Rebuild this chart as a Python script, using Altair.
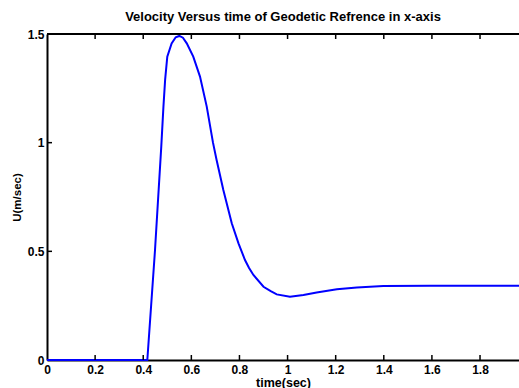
import altair as alt
import pandas as pd

# Data
time_s = [0.0, 0.417, 0.449, 0.475, 0.484, 0.491, 0.500, 0.518, 0.535, 0.550,
          0.565, 0.581, 0.608, 0.636, 0.664, 0.690, 0.705, 0.733, 0.768, 0.796,
          0.823, 0.840, 0.858, 0.900, 0.930, 0.955, 1.010, 1.066, 1.121, 1.205,
          1.288, 1.398, 1.592, 1.962]
velocity = [0.0, 0.0, 0.506, 0.982, 1.166, 1.289, 1.396, 1.457, 1.485, 1.491,
            1.483, 1.457, 1.396, 1.304, 1.166, 1.000, 0.920, 0.782, 0.629, 0.537,
            0.460, 0.423, 0.391, 0.337, 0.317, 0.302, 0.291, 0.299, 0.311, 0.325,
            0.334, 0.340, 0.342, 0.342]

x_ticks = [0, 0.2, 0.4, 0.6, 0.8, 1.0, 1.2, 1.4, 1.6, 1.8]
y_ticks = [0, 0.5, 1.0, 1.5]
x_max = 1.962
W, H = 472, 326
FONT = "Liberation Sans"

df = pd.DataFrame({"t": time_s, "U": velocity})
xt = pd.DataFrame({"t": x_ticks[1:]})
yt = pd.DataFrame({"U": y_ticks[1:-1]})

xscale = alt.Scale(domain=[0, x_max], nice=False, zero=False)
yscale = alt.Scale(domain=[0, 1.5], nice=False)

line = alt.Chart(df).mark_line(color="#0000ff", strokeWidth=2).encode(
    x=alt.X("t:Q", scale=xscale, title="time(sec)",
            axis=alt.Axis(values=x_ticks, format="~g", title="time(sec)",
                          ticks=False, tickSize=0, grid=False, labelFlush=False,
                          domainColor="black", domainWidth=2,
                          labelFont=FONT, labelFontSize=12, labelFontWeight="bold",
                          labelColor="black", labelPadding=4,
                          titleFont=FONT, titleFontSize=12.5, titleFontWeight="bold",
                          titleColor="black", titlePadding=1)),
    y=alt.Y("U:Q", scale=yscale, title="U(m/sec)",
            axis=alt.Axis(values=y_ticks, format="~g", title="U(m/sec)",
                          ticks=False, tickSize=0, grid=False,
                          domainColor="black", domainWidth=2,
                          labelFont=FONT, labelFontSize=12, labelFontWeight="bold",
                          labelColor="black", labelPadding=3,
                          titleFont=FONT, titleFontSize=11.5, titleFontWeight="bold",
                          titleColor="black", titlePadding=5)),
)

bottom_ticks = alt.Chart(xt).mark_rule(color="black", strokeWidth=1.5).encode(
    x=alt.X("t:Q", scale=xscale, title="time(sec)"), y=alt.value(H), y2=alt.value(H - 5))
top_ticks = alt.Chart(xt).mark_rule(color="black", strokeWidth=1.5).encode(
    x=alt.X("t:Q", scale=xscale, title="time(sec)"), y=alt.value(0), y2=alt.value(5))
left_ticks = alt.Chart(yt).mark_rule(color="black", strokeWidth=1.5).encode(
    y=alt.Y("U:Q", scale=yscale, title="U(m/sec)"), x=alt.value(0), x2=alt.value(5))
top_border = alt.Chart(yt).mark_rule(color="black", strokeWidth=2).encode(
    x=alt.value(0), x2=alt.value(W), y=alt.value(0))

chart = alt.layer(line, bottom_ticks, top_ticks, left_ticks, top_border).properties(
    width=W, height=H,
    title=alt.TitleParams("Velocity Versus time of Geodetic Refrence in x-axis",
                          font=FONT, fontSize=13, fontWeight="bold", color="black",
                          frame="group", anchor="middle", offset=4),
    autosize="none",
    background="white",
    padding={"left": 47, "top": 34, "right": 0, "bottom": 28},
).configure_view(stroke=None)

chart.save("out.html", embed_options={"renderer": "svg", "actions": False})
